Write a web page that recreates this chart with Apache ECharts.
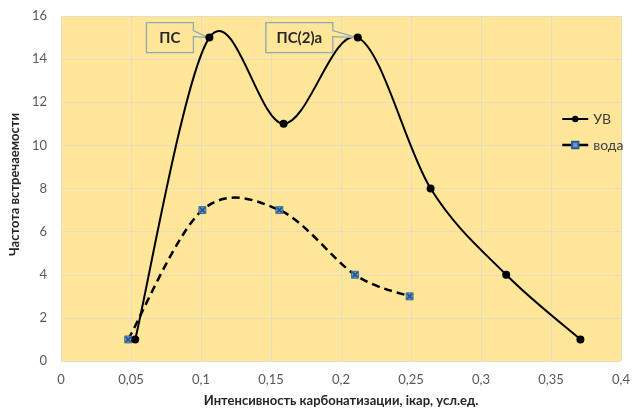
<!DOCTYPE html>
<html><head><meta charset="utf-8">
<script src="https://cdn.jsdelivr.net/npm/echarts@6/dist/echarts.min.js"></script>
<style>html,body{margin:0;padding:0;background:#fff}#c{width:639px;height:412px}</style>
</head><body><div id="c"></div>
<script>
var uvX = [0.053, 0.106, 0.159, 0.212, 0.264, 0.318, 0.371];
var uvY = [1, 15, 11, 15, 8, 4, 1];
var vodaX = [0.048, 0.101, 0.156, 0.21, 0.249];
var vodaY = [1, 7, 7, 4, 3];
var calloutIdx = [1, 3];
var calloutText = ['ПС', 'ПС(2)а'];
var xTicks = ['0','0,05','0,1','0,15','0,2','0,25','0,3','0,35','0,4'];

var font = 'Lato';
var boxFill = '#FFE699', boxStroke = '#8FA9B5';

function smoothPath(pts) {
  var d = 'M' + pts[0][0] + ' ' + pts[0][1];
  for (var i = 0; i < pts.length - 1; i++) {
    var p0 = pts[Math.max(0, i - 1)], p1 = pts[i], p2 = pts[i + 1], p3 = pts[Math.min(pts.length - 1, i + 2)];
    var c1x = p1[0] + (p2[0] - p0[0]) / 6, c1y = p1[1] + (p2[1] - p0[1]) / 6;
    var c2x = p2[0] - (p3[0] - p1[0]) / 6, c2y = p2[1] - (p3[1] - p1[1]) / 6;
    d += ' C' + c1x + ' ' + c1y + ' ' + c2x + ' ' + c2y + ' ' + p2[0] + ' ' + p2[1];
  }
  return d;
}

function curveSeries(xs, ys, lineStyle, withCallouts) {
  return {
    type: 'custom', silent: true, z: 1,
    data: [0],
    renderItem: function(params, api) {
      var pts = xs.map(function(x, i){ return api.coord([x, ys[i]]); });
      var children = [{
        type: 'path',
        shape: {pathData: smoothPath(pts)},
        style: lineStyle
      }];
      if (withCallouts) {
        calloutIdx.forEach(function(idx, k){
          var p = pts[idx];
          var gap = k === 0 ? 16 : 25;
          var w = k === 0 ? 47 : 67;
          var right = p[0] - gap, left = right - w, top = p[1] - 15, bot = p[1] + 15;
          children.push({
            type: 'polygon', z2: 5,
            shape: {points: [[left, top], [right, top], [right, p[1] - 7], [p[0] - 1, p[1]], [right, p[1] - 1], [right, bot], [left, bot]]},
            style: {fill: boxFill, stroke: boxStroke, lineWidth: 1.3}
          });
          children.push({
            type: 'text', z2: 6,
            x: (left + right) / 2, y: p[1] + 1,
            style: {text: calloutText[k], fontFamily: font, fontWeight: 'bold', fontSize: 15,
              fill: '#262626', align: 'center', verticalAlign: 'middle'}
          });
        });
      }
      return {type: 'group', children: children};
    }
  };
}

var vodaPts = vodaX.map(function(x, i){ return [x, vodaY[i]]; });

var chart = echarts.init(document.getElementById('c'));
chart.setOption({
  animation: false,
  textStyle: {fontFamily: font},
  grid: {left: 61, right: 18, top: 16, bottom: 51, show: true, backgroundColor: '#FFE699', borderWidth: 0},
  legend: {
    orient: 'vertical', left: 556, top: 107, itemGap: 12, itemWidth: 26, itemHeight: 8,
    textStyle: {fontFamily: font, fontSize: 14, color: '#404040'},
    data: [
      {name: 'УВ', lineStyle: {opacity: 1, color: '#000', width: 2}},
      {name: 'вода', lineStyle: {opacity: 1, color: '#000', width: 2.5}}
    ]
  },
  xAxis: {
    type: 'value', min: 0, max: 0.4, interval: 0.05,
    name: 'Интенсивность карбонатизации, ікар, усл.ед.', nameLocation: 'middle', nameGap: 33,
    nameTextStyle: {fontFamily: font, fontWeight: 'bold', fontSize: 13, color: '#262626'},
    axisLine: {show: false}, axisTick: {show: false},
    axisLabel: {fontFamily: font, fontSize: 13, color: '#595959', margin: 12,
      formatter: function(v){ var i = Math.round(v / 0.05); return xTicks[i]; }},
    splitLine: {show: true, lineStyle: {color: '#E6DCC0', width: 1}}
  },
  yAxis: {
    type: 'value', min: 0, max: 16, interval: 2,
    name: 'Частота встречаемости', nameLocation: 'middle', nameGap: 32,
    nameTextStyle: {fontFamily: font, fontWeight: 'bold', fontSize: 13, color: '#262626', padding: [0, 0, 0, 8]},
    axisLine: {show: false}, axisTick: {show: false},
    axisLabel: {fontFamily: font, fontSize: 13, color: '#595959', margin: 14},
    splitLine: {show: true, lineStyle: {color: '#E6DCC0', width: 1}}
  },
  series: [
    curveSeries(vodaX, vodaY, {stroke: '#000', lineWidth: 2.5, lineDash: [8, 5], fill: null}, false),
    curveSeries(uvX, uvY, {stroke: '#000', lineWidth: 2, fill: null}, true),
    {
      name: 'УВ', type: 'line', data: uvX.map(function(x, i){ return [x, uvY[i]]; }),
      symbol: 'circle', symbolSize: 8,
      itemStyle: {color: '#000'}, lineStyle: {color: '#000', width: 2, opacity: 0},
      z: 4
    },
    {
      name: 'вода', type: 'line', data: vodaPts,
      symbol: 'rect', symbolSize: 7,
      itemStyle: {color: '#5B9BD5', borderColor: '#2E5A8A', borderWidth: 0.8},
      lineStyle: {color: '#000', width: 2.5, opacity: 0},
      z: 3
    },
    {
      type: 'scatter', data: vodaPts, silent: true, z: 5,
      symbol: 'path://M0 0L10 10M10 0L0 10', symbolSize: 5,
      itemStyle: {color: 'transparent', borderColor: '#1F3864', borderWidth: 1.5}
    }
  ]
});
</script></body></html>
